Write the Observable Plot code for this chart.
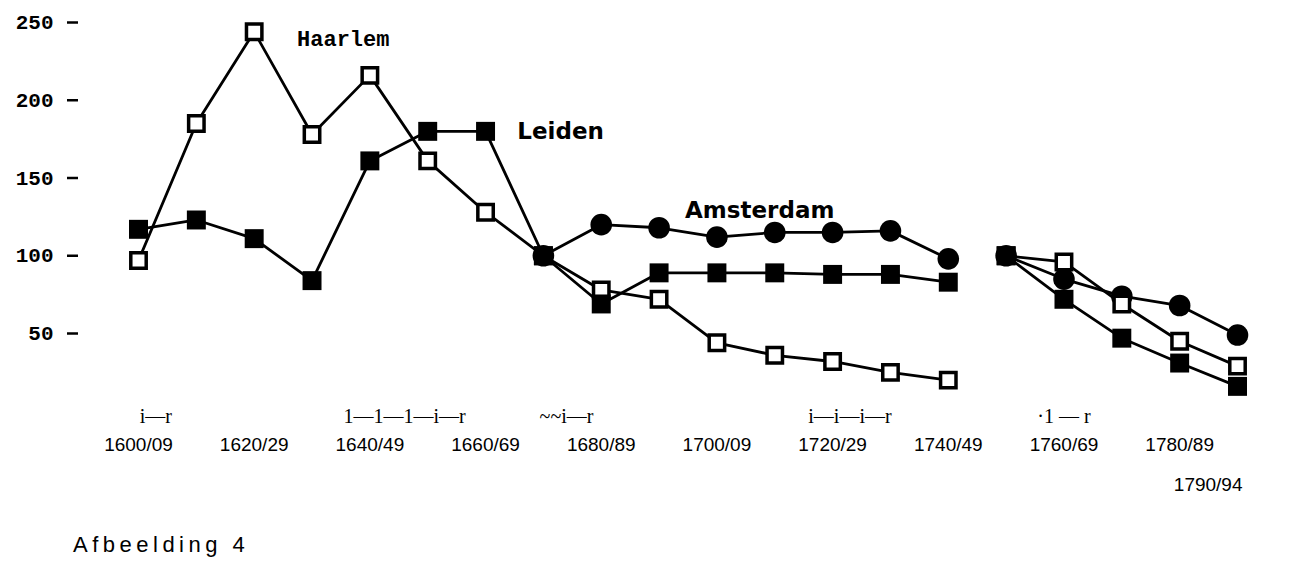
<!DOCTYPE html>
<html><head><meta charset="utf-8">
<script src="https://cdn.jsdelivr.net/npm/d3@7"></script>
<script src="https://cdn.jsdelivr.net/npm/@observablehq/plot@0.6"></script>
<style>
body{margin:0;background:#fff;}
#caption{font-family:"Liberation Sans",Arial,sans-serif;font-size:22px;letter-spacing:4.5px;line-height:34px;padding-left:73px;color:#000;}
</style></head><body>
<div id="chart"></div>
<div id="caption">Afbeelding 4</div>
<script>
// decades (start years); series break between 1740 and 1750 (re-indexed: 1670 = 100, 1750 = 100)
const years     = [1600,1610,1620,1630,1640,1650,1660,1670,1680,1690,1700,1710,1720,1730,1740,1750,1760,1770,1780,1790];
const segments  = [0,0,0,0,0,0,0,0,0,0,0,0,0,0,0,1,1,1,1,1];
const haarlem   = [97,185,244,178,216,161,128,100,78,72,44,36,32,25,20,100,96,69,45,29];
const leiden    = [117,123,111,84,161,180,180,100,69,89,89,89,88,88,83,100,72,47,31,16];
const amsterdam = [null,null,null,null,null,null,null,100,120,118,112,115,115,116,98,100,85,74,68,49];

const yTicks = [50,100,150,200,250];
const tickYears  = [1600,1620,1640,1660,1680,1700,1720,1740,1760,1780];
const tickLabels = ["1600/09","1620/29","1640/49","1660/69","1680/89","1700/09","1720/29","1740/49","1760/69","1780/89"];
const lastTickYear = [1790];
const lastTickLabel = ["1790/94"];
// scanned axis-tick glyph row as it appears in the picture
const glyphYears = [1603,1646,1674,1723,1760];
const glyphTexts = ["i—r","1—1—1—i—r","~~i—r","i—i—i—r","·1 — r"];

const cityNames  = ["Haarlem","Leiden","Amsterdam"];
const cityYears  = [1635.4,1665.5,1707.4];
const cityValues = [239.7,179.8,129];

const rows = [];
const series = {Haarlem: haarlem, Leiden: leiden, Amsterdam: amsterdam};
for (const [city, vals] of Object.entries(series)) {
  vals.forEach((v, i) => { if (v != null) rows.push({city, year: years[i], value: v, seg: segments[i]}); });
}

const chart = Plot.plot({
  width: 1306, height: 528,
  marginLeft: 78, marginRight: 0, marginTop: 0, marginBottom: 98,
  x: {domain: [1600, 1790], range: [138, 1237], axis: null},
  y: {domain: [50, 250], range: [333, 22]},
  style: {background: "white", color: "black", fontFamily: "Liberation Mono, monospace"},
  marks: [
    Plot.axisY({ticks: yTicks, tickSize: 11, tickPadding: 14, strokeWidth: 2.5, label: null,
      fontSize: 21, fontWeight: "bold", fontFamily: "Liberation Mono, monospace"}),
    Plot.line(rows, {x: "year", y: "value", z: d => d.city + d.seg, stroke: "black", strokeWidth: 2.8}),
    Plot.dot(rows.filter(d => d.city === "Amsterdam"), {x: "year", y: "value", symbol: "circle", r: 10.8, fill: "black"}),
    Plot.dot(rows.filter(d => d.city === "Haarlem"), {x: "year", y: "value", symbol: "square", r: 8.7, fill: "white", stroke: "black", strokeWidth: 3.5}),
    Plot.dot(rows.filter(d => d.city === "Leiden"), {x: "year", y: "value", symbol: "square", r: 10.7, fill: "black"}),
    Plot.text([0], {x: cityYears[0], y: cityValues[0], text: [cityNames[0]], fontFamily: "Liberation Mono, monospace",
      fontWeight: "bold", fontSize: 22, textAnchor: "middle", letterSpacing: 2.5}),
    Plot.text([0], {x: cityYears[1], y: cityValues[1], text: [cityNames[1]], fontFamily: "DejaVu Sans, sans-serif",
      fontWeight: "bold", fontSize: 23, textAnchor: "start"}),
    Plot.text([0], {x: cityYears[2], y: cityValues[2], text: [cityNames[2]], fontFamily: "DejaVu Sans, sans-serif",
      fontWeight: 600, fontSize: 23, textAnchor: "middle", letterSpacing: 1}),
    Plot.text(glyphTexts, {x: (d, i) => glyphYears[i], text: d => d, frameAnchor: "bottom", dy: -8,
      fontFamily: "Liberation Serif, serif", fontSize: 20}),
    Plot.text(tickLabels, {x: (d, i) => tickYears[i], text: d => d, frameAnchor: "bottom", dy: 20,
      fontFamily: "Liberation Sans, sans-serif", fontSize: 19, letterSpacing: 2}),
    Plot.text(lastTickLabel, {x: (d, i) => lastTickYear[i], text: d => d, frameAnchor: "bottom", dy: 60,
      fontFamily: "Liberation Sans, sans-serif", fontSize: 19, letterSpacing: 1, textAnchor: "end", dx: 5})
  ]
});
document.getElementById("chart").appendChild(chart);
</script>
</body></html>
